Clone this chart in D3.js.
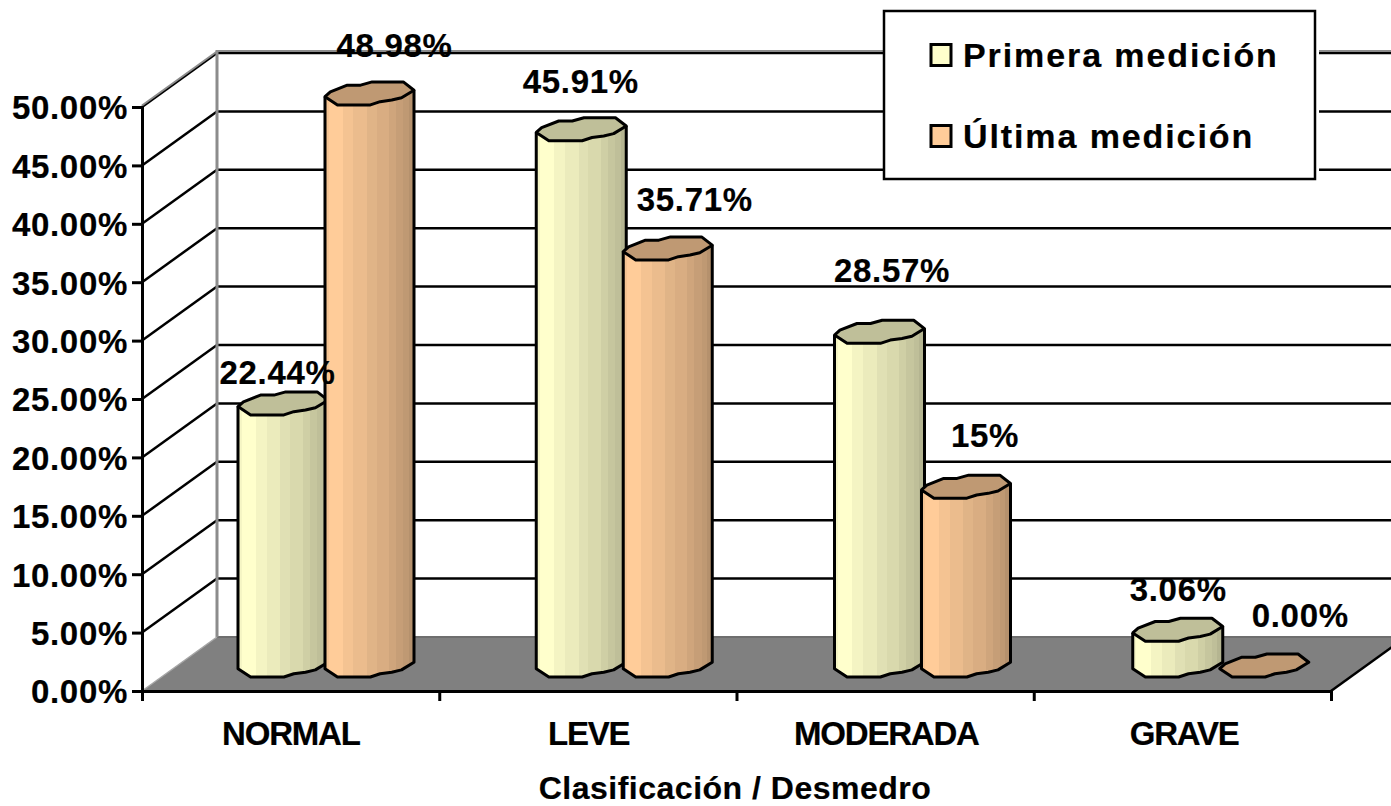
<!DOCTYPE html>
<html>
<head>
<meta charset="utf-8">
<script src="https://cdn.jsdelivr.net/npm/d3@7"></script>
<style>
  body { margin: 0; background: #fff; }
  svg { display: block; }
  text { font-family: "Liberation Sans", Arial, sans-serif; font-weight: bold; fill: #000; stroke: #000; stroke-width: 0.2px; }
</style>
</head>
<body>
<div id="chart"></div>
<script>
var categories = ["NORMAL", "LEVE", "MODERADA", "GRAVE"];
var seriesNames = ["Primera medición", "Última medición"];
var primera = [22.44, 45.91, 28.57, 3.06];
var ultima = [48.98, 35.71, 15.31, 0];
var primeraLabels = ["22.44%", "45.91%", "28.57%", "3.06%"];
var ultimaLabels = ["48.98%", "35.71%", "15%", "0.00%"];
var yTicks = [0, 5, 10, 15, 20, 25, 30, 35, 40, 45, 50];

var width = 1391, height = 806;
var colors = ["#FFFFCC", "#FFCC99"];
var capColors = ["#BFBF99", "#BF9973"];

// 3d depth of the walls and of the bars in front of them
var wallDx = 75, wallDy = -54, barDy = -14, capH = 23;

var svg = d3.select("#chart").append("svg")
  .attr("width", width)
  .attr("height", height);

var y = d3.scaleLinear().domain([0, 50]).range([691, 107]);
var xTick = d3.scaleLinear().domain([0, 4]).range([142, 1331]);
var x0 = d3.scaleBand().domain(categories).range([142, 1333]);
var xBars = d3.scaleBand().domain(categories).range([142, 1335]);
var x1 = d3.scaleBand().domain(seriesNames).range([96, 270]);
var barW = [90, 89];

// vertical shading bands of the cylinders
var bandStops = [0, 0.04, 0.2, 0.32, 0.47, 0.58, 0.72, 0.8, 0.88, 0.94, 1];
var bandShade = [0.96, 1, 0.955, 0.92, 0.88, 0.85, 0.81, 0.775, 0.75, 0.71];
var defs = svg.append("defs");
colors.forEach(function (c, i) {
  var g = defs.append("linearGradient").attr("id", "band" + i);
  bandShade.forEach(function (s, j) {
    var base = d3.rgb(c);
    var col = d3.rgb(base.r * s, base.g * s, base.b * s).toString();
    g.append("stop").attr("offset", bandStops[j]).attr("stop-color", col);
    g.append("stop").attr("offset", bandStops[j + 1]).attr("stop-color", col);
  });
});

// floor
var floorRight = xTick(4) + wallDx;
svg.append("path")
  .attr("d", d3.line()([
    [xTick(0), y(0)], [xTick(0) + wallDx, y(0) + wallDy],
    [floorRight, y(0) + wallDy], [xTick(4), y(0)]
  ]) + "Z")
  .attr("fill", "#808080");

// back wall and side wall grid lines
yTicks.forEach(function (t) {
  var yb = y(t) + wallDy;
  if (t > 0) {
    svg.append("line")
      .attr("x1", xTick(0)).attr("y1", y(t))
      .attr("x2", xTick(0) + wallDx).attr("y2", yb)
      .attr("stroke", "#000").attr("stroke-width", 2.5);
    svg.append("line")
      .attr("x1", xTick(0) + wallDx).attr("y1", yb)
      .attr("x2", floorRight).attr("y2", yb)
      .attr("stroke", "#000").attr("stroke-width", 2.5);
  }
});
svg.append("line")
  .attr("x1", xTick(0)).attr("y1", y(50) - 1.5)
  .attr("x2", xTick(0) + wallDx).attr("y2", y(50) + wallDy - 1.5)
  .attr("stroke", "#8c8c8c").attr("stroke-width", 2);
svg.append("line")
  .attr("x1", xTick(0) + wallDx).attr("y1", y(50) + wallDy - 2)
  .attr("x2", floorRight).attr("y2", y(50) + wallDy - 2)
  .attr("stroke", "#8c8c8c").attr("stroke-width", 2);
svg.append("line")
  .attr("x1", xTick(0) + wallDx).attr("y1", y(0) + wallDy)
  .attr("x2", floorRight).attr("y2", y(0) + wallDy)
  .attr("stroke", "#6e6e6e").attr("stroke-width", 2);
svg.append("line")
  .attr("x1", xTick(0) + wallDx).attr("y1", y(50) + wallDy - 3)
  .attr("x2", xTick(0) + wallDx).attr("y2", y(0) + wallDy)
  .attr("stroke", "#8c8c8c").attr("stroke-width", 3);
svg.append("line")
  .attr("x1", xTick(0)).attr("y1", y(0))
  .attr("x2", xTick(0) + wallDx).attr("y2", y(0) + wallDy)
  .attr("stroke", "#a6a6a6").attr("stroke-width", 1.5);
svg.append("line")
  .attr("x1", xTick(4)).attr("y1", y(0))
  .attr("x2", floorRight).attr("y2", y(0) + wallDy)
  .attr("stroke", "#000").attr("stroke-width", 2.5);

// axes
var yAxis = svg.append("g")
  .attr("transform", "translate(" + xTick(0) + ",0)")
  .call(d3.axisLeft(y).tickValues(yTicks).tickSize(10).tickPadding(4)
    .tickFormat(function (d) { return d.toFixed(2) + "%"; }));
yAxis.selectAll("path, line").attr("stroke", "#000").attr("stroke-width", 3);
yAxis.selectAll("text")
  .style("font-size", "33px")
  .style("letter-spacing", "0.7px")
  .attr("dy", "0.36em");

var xAxis = svg.append("g")
  .attr("transform", "translate(0," + y(0) + ")")
  .call(d3.axisBottom(xTick).ticks(4).tickSize(10).tickSizeOuter(0)
    .tickFormat(function () { return ""; }));
xAxis.selectAll("path, line").attr("stroke", "#000").attr("stroke-width", 3);

svg.selectAll(".cat").data(categories).enter().append("text")
  .attr("class", "cat")
  .attr("x", function (d) { return x0(d) + x0.bandwidth() / 2; })
  .attr("y", 745)
  .attr("text-anchor", "middle")
  .style("font-size", "33px")
  .style("letter-spacing", "-1.2px")
  .text(function (d) { return d; });

svg.append("text")
  .attr("x", 735).attr("y", 799)
  .attr("text-anchor", "middle")
  .style("font-size", "32px")
  .style("letter-spacing", "0.5px")
  .text("Clasificación / Desmedro");

// irregular outline of the cylinder cap, in fractions of bar width and cap height
var capTop = [[0, 0.64], [0.06, 0.43], [0.25, 0.14], [0.4, 0.14], [0.53, 0], [0.88, 0], [1, 0.36]];
var capBottom = [[1, 0.36], [0.86, 0.69], [0.75, 0.79], [0.62, 0.86], [0.51, 1], [0.14, 1], [0, 0.64]];

function shape(pts, xl, w, yFront) {
  return pts.map(function (p) { return [xl + p[0] * w, yFront - capH + p[1] * capH]; });
}

var line = d3.line();
var seriesValues = [primera, ultima];
var seriesLabels = [primeraLabels, ultimaLabels];

categories.forEach(function (c, i) {
  seriesNames.forEach(function (s, k) {
    var v = seriesValues[k][i];
    var xl = xBars(c) + x1(s);
    var w = barW[k];
    var yFront = y(v) + barDy;
    var yBase = y(0) + barDy;
    if (v > 0) {
      var body = [shape(capBottom, xl, w, yFront)[0]]
        .concat(shape(capBottom, xl, w, yBase))
        .concat([shape(capBottom, xl, w, yFront)[6]]);
      svg.append("path")
        .attr("d", line(shape(capTop, xl, w, yFront).concat(shape(capBottom, xl, w, yBase))) + "Z")
        .attr("fill", "url(#band" + k + ")")
        .attr("stroke", "none");
      svg.append("path")
        .attr("d", line(body))
        .attr("fill", "none")
        .attr("stroke", "#000").attr("stroke-width", 3).attr("stroke-linejoin", "round");
    }
    svg.append("path")
      .attr("d", line(shape(capTop, xl, w, yFront).concat(shape(capBottom, xl, w, yFront))) + "Z")
      .attr("fill", capColors[k])
      .attr("stroke", "#000").attr("stroke-width", 3).attr("stroke-linejoin", "round");
  });
});

// data labels sit where the original dragged them, offset from the bar centre and cap top
var labelNudge = [
  [[-4, -8], [26, -25]],
  [[1, -25], [28, -26]],
  [[14, -38], [20, -28]],
  [[2, -17], [37, -27]]
];
categories.forEach(function (c, i) {
  seriesNames.forEach(function (s, k) {
    var v = seriesValues[k][i];
    svg.append("text")
      .attr("x", xBars(c) + x1(s) + x1.bandwidth() / 2 + labelNudge[i][k][0])
      .attr("y", y(v) + barDy - capH + labelNudge[i][k][1])
      .attr("text-anchor", "middle")
      .style("font-size", "33px")
      .style("letter-spacing", "0.7px")
      .text(seriesLabels[k][i]);
  });
});

// legend
svg.append("rect").attr("x", 884).attr("y", 11).attr("width", 435).attr("height", 170).attr("fill", "#fff");
svg.append("rect").attr("x", 884).attr("y", 11).attr("width", 431).attr("height", 168)
  .attr("fill", "#fff").attr("stroke", "#000").attr("stroke-width", 2.5);
seriesNames.forEach(function (s, k) {
  var cy = 55 + k * 81;
  svg.append("rect")
    .attr("x", 931).attr("y", cy - 10.5).attr("width", 20).attr("height", 21)
    .attr("fill", colors[k]).attr("stroke", "#000").attr("stroke-width", 3);
  svg.append("text")
    .attr("x", 963).attr("y", cy + 12)
    .style("font-size", "34px")
    .style("letter-spacing", "1.9px")
    .text(s);
});
</script>
</body>
</html>
